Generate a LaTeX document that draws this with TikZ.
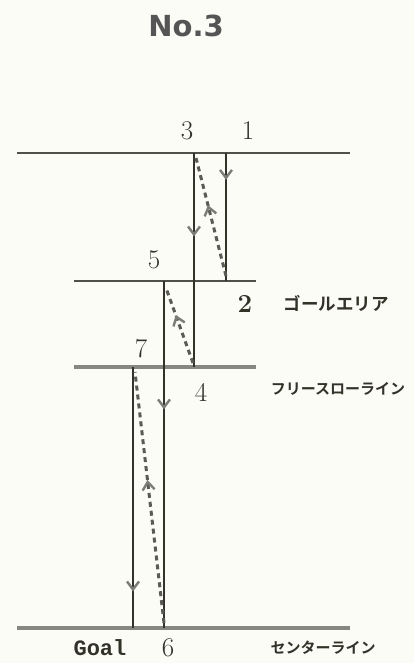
\documentclass[tikz,border=0pt]{standalone}
\usepackage{fontspec}
\newfontfamily\jpfont{Noto Sans CJK JP}[BoldFont={Noto Sans CJK JP Bold}]
\newfontfamily\titlefont{DejaVu Sans}
\newfontfamily\goalfont{Liberation Mono}
\usetikzlibrary{arrows.meta,decorations.markings}
\definecolor{paper}{RGB}{252,252,246}
\definecolor{ink}{RGB}{50,50,40}
\definecolor{hline}{RGB}{80,80,75}
\definecolor{lightline}{RGB}{135,135,130}
\definecolor{tipgray}{RGB}{125,125,120}
\definecolor{titlegray}{RGB}{85,85,85}
\tikzset{
  hl/.style={draw=hline,line width=2.6pt},
  hlthick/.style={draw=lightline,line width=3.6pt},
  run/.style={draw=ink,line width=2.8pt},
  pass/.style={draw=ink!80,line width=3pt,dash pattern=on 5pt off 4pt},
  midtip/.style={postaction={decorate},decoration={markings,
     mark=at position #1 with {\arrow[tipgray,line width=2.4pt]{Straight Barb[length=8pt,width=12pt]}}}},
  num/.style={font=\fontsize{27}{27}\selectfont,text=ink,inner sep=0pt},
  jp/.style={font=\jpfont\bfseries\fontsize{15}{15}\selectfont,text=ink,inner sep=0pt},
}
\begin{document}
\begin{tikzpicture}[x=1pt,y=-1pt]
\useasboundingbox[fill=paper] (0,0) rectangle (414,663);
% title
\node[font=\titlefont\bfseries\fontsize{29}{29}\selectfont,text=titlegray,inner sep=0pt] (title) at (186,26) {No.3};
% horizontal lines
\coordinate (A1) at (17,153); \coordinate (A2) at (350,153);
\coordinate (B1) at (74,281); \coordinate (B2) at (256,281);
\coordinate (C1) at (74,367); \coordinate (C2) at (256,367);
\coordinate (D1) at (17,628); \coordinate (D2) at (350,628);
\draw[hl] (A1) -- (A2);
\draw[hl] (B1) -- (B2);
\draw[hlthick] (C1) -- (C2);
\draw[hlthick] (D1) -- (D2);
% vertical runs
\coordinate (p3t) at (194,153); \coordinate (p3b) at (194,367);
\coordinate (p1t) at (226,153); \coordinate (p1b) at (226,281);
\coordinate (p5t) at (164,281); \coordinate (p5b) at (164,628);
\coordinate (p7t) at (133,367); \coordinate (p7b) at (133,628);
\draw[run,midtip=0.21] (p1t) -- (p1b);
\draw[run,midtip=0.39] (p3t) -- (p3b);
\draw[run,midtip=0.37] (p5t) -- (p5b);
\draw[run,midtip=0.86] (p7t) -- (p7b);
% passes
\coordinate (d1s) at (226,276); \coordinate (d1e) at (196,158);
\coordinate (d2s) at (193,363); \coordinate (d2e) at (166,288);
\coordinate (d3s) at (164,623); \coordinate (d3e) at (135,372);
\draw[pass,midtip=0.6] (d1s) -- (d1e);
\draw[pass,midtip=0.64] (d2s) -- (d2e);
\draw[pass,midtip=0.57] (d3s) -- (d3e);
% labels
\node[num] (n3) at (187,131) {3};
\node[num] (n1) at (248,131) {1};
\node[num] (n5) at (154,260) {5};
\node[num,font=\bfseries\fontsize{26}{26}\selectfont] (n2) at (245,304) {2};
\node[num] (n7) at (141,349) {7};
\node[num] (n4) at (201,392) {4};
\node[num] (n6) at (168,648) {6};
\node[font=\goalfont\bfseries\fontsize{22}{22}\selectfont,text=ink,inner sep=0pt] (goal) at (100,648) {Goal};
\node[jp,font=\jpfont\bfseries\fontsize{17.5}{17.5}\selectfont] (ga) at (336,303) {ゴールエリア};
\node[jp] (ftl) at (338,389) {フリースローライン};
\node[jp] (cl) at (323,648) {センターライン};
\end{tikzpicture}
\end{document}
